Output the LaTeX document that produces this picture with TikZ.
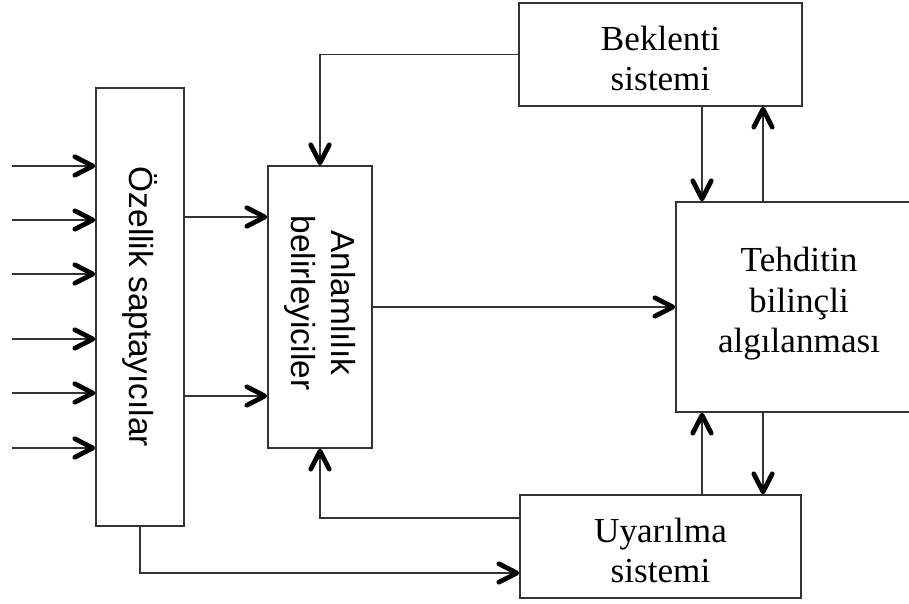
\documentclass[tikz,border=0pt]{standalone}
\usepackage{fontspec}
\setmainfont{Liberation Serif}
\setsansfont{Liberation Sans}
\usetikzlibrary{arrows.meta}

\begin{document}
\begin{tikzpicture}[x=0.02cm, y=-0.02cm,
    kutu/.style={draw=black!80, line width=0.9pt, inner sep=0pt},
    ok/.style={draw=black!80, line width=0.9pt,
      -{Straight Barb[length=3.6mm, width=3.7mm, line width=2.7pt 0 1, round, black]}},
    yazi/.style={font=\fontsize{20}{23}\selectfont, align=center},
    dikyazi/.style={font=\sffamily\fontsize{19}{23}\selectfont, align=center, rotate=-90}]

  % Sayfa sinirlari
  \useasboundingbox (0,0) rectangle (909,604);

  % Kutular
  \node[kutu, minimum width=1.76cm, minimum height=8.76cm] (oze) at (140,307) {};
  \node[kutu, minimum width=2.08cm, minimum height=5.64cm] (anl) at (320,307) {};
  \node[kutu, minimum width=5.66cm, minimum height=2.06cm] (bek) at (660.5,54.5) {};
  \node[kutu, minimum width=5.62cm, minimum height=2.06cm] (uya) at (660.5,546.5) {};
  \node[kutu, minimum width=4.92cm, minimum height=4.20cm] (teh) at (799,307) {};

  % Yazilar
  \node[dikyazi] (ozeyazi) at (oze) {Özellik saptayıcılar};
  \node[dikyazi] (anlyazi) at ([yshift=0.08cm]anl) {Anlamlılık\\belirleyiciler};
  \node[yazi] (bekyazi) at ([yshift=-0.08cm]bek) {Beklenti\\sistemi};
  \node[yazi] (uyayazi) at ([yshift=-0.08cm]uya) {Uyarılma\\sistemi};
  \node[yazi] (tehyazi) at ([yshift=0.06cm]teh) {Tehditin\\bilinçli\\algılanması};

  % Girdiler
  \foreach \y [count=\i] in {166,220,274,339,393,448} {
    \coordinate (g\i) at (12,\y);
    \draw[ok] (g\i) -- (g\i -| oze.west);
  }

  % Ozellik saptayicilar -> Anlamlilik belirleyiciler
  \draw[ok] (oze.east |- 0,217) -- (anl.west |- 0,217);
  \draw[ok] (oze.east |- 0,396) -- (anl.west |- 0,396);

  % Anlamlilik belirleyiciler -> Tehditin bilincli algilanmasi
  \draw[ok] (anl.east) -- (teh.west);

  % Geri beslemeler
  \draw[ok] (bek.west) -| (anl.north);
  \draw[ok] (uya.west |- 0,518) -| (anl.south);
  \draw[ok] (oze.south) |- (uya.west |- 0,573);

  % Beklenti sistemi <-> Tehditin bilincli algilanmasi
  \draw[ok] (bek.south -| 702,0) -- (teh.north -| 702,0);
  \draw[ok] (teh.north -| 763,0) -- (bek.south -| 763,0);

  % Tehditin bilincli algilanmasi <-> Uyarilma sistemi
  \draw[ok] (teh.south -| 763,0) -- (uya.north -| 763,0);
  \draw[ok] (uya.north -| 702,0) -- (teh.south -| 702,0);

\end{tikzpicture}
\end{document}
